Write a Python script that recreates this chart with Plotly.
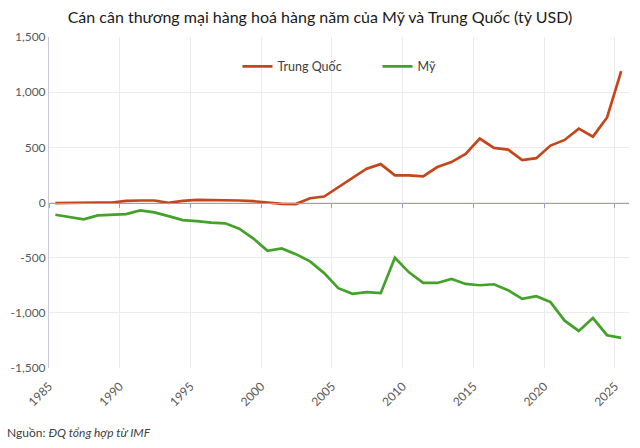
import plotly.graph_objects as go

years = list(range(1985, 2026))
china = [-6, -3, 3, 0, 0, 15, 18, 18, -3, 15, 24, 24, 21, 18, 12, -3, -12, -14, 39, 54,
         138, 225, 306, 348, 246, 246, 237, 321, 366, 441, 579, 495, 480, 384, 402, 516,
         567, 669, 597, 771, 1191]
usa = [-111, -135, -153, -117, -108, -105, -72, -90, -123, -159, -168, -183, -189, -237,
       -327, -438, -417, -468, -534, -640, -777, -828, -813, -822, -501, -633, -729, -729,
       -693, -738, -750, -741, -795, -873, -849, -903, -1071, -1164, -1047, -1203, -1227]
y_ticks = [-1500, -1000, -500, 0, 500, 1000, 1500]
y_ticktext = ["-1,500", "-1,000", "-500", "0", "500", "1,000", "1,500"]
x_ticks = [1985, 1990, 1995, 2000, 2005, 2010, 2015, 2020, 2025]

FONT = "Lato"
xpos = [y + 0.45 for y in years]

fig = go.Figure()
fig.add_trace(go.Scatter(x=xpos, y=china, mode="lines", name="Trung Quốc",
                         line=dict(color="#c4461b", width=2.7)))
fig.add_trace(go.Scatter(x=xpos, y=usa, mode="lines", name="Mỹ",
                         line=dict(color="#44a12a", width=2.7)))

fig.update_layout(
    width=640, height=448,
    margin=dict(l=49, r=11, t=37, b=80),
    paper_bgcolor="white", plot_bgcolor="white",
    font=dict(family=FONT, size=12, color="#595959"),
    title=dict(text="Cán cân thương mại hàng hoá hàng năm của Mỹ và Trung Quốc (tỷ USD)",
               x=0.5, xanchor="center", y=0.962, yanchor="middle",
               font=dict(family=FONT, size=16, color="#1a1a1a")),
    showlegend=True,
    legend=dict(orientation="h", x=0.325, y=0.91, xanchor="left", yanchor="middle",
                font=dict(family=FONT, size=12.5, color="#404040"),
                bgcolor="rgba(0,0,0,0)", entrywidth=95, entrywidthmode="pixels",
                itemwidth=30),
    xaxis=dict(range=[1985, 2026], tickvals=x_ticks, tickangle=-45,
               showgrid=True, gridcolor="#ebebeb", gridwidth=1,
               zeroline=False, showline=False, ticks="", ticklabelstandoff=8,
               tickfont=dict(family=FONT, size=12, color="#595959")),
    xaxis2=dict(range=[1985, 2026], tickvals=x_ticks, overlaying="x",
                anchor="free", position=0.5, side="bottom",
                showgrid=False, zeroline=False, showline=True,
                linecolor="#9f99cc", linewidth=1.2,
                ticks="outside", ticklen=4, tickcolor="#9f99cc",
                showticklabels=False),
    yaxis=dict(range=[-1500, 1500], tickvals=y_ticks, ticktext=y_ticktext,
               showgrid=True, gridcolor="#ebebeb", gridwidth=1,
               zeroline=False, showline=True, linecolor="#c9c6dd", linewidth=1,
               ticks="", tickfont=dict(family=FONT, size=12, color="#595959")),
)

# invisible helper trace to activate xaxis2 (zero line with ticks)
fig.add_trace(go.Scatter(x=[xpos[0]], y=[0], xaxis="x2", mode="markers",
                         marker=dict(opacity=0), showlegend=False, hoverinfo="skip"))

fig.add_annotation(text="Nguồn: <i>ĐQ tổng hợp từ IMF</i>", xref="paper", yref="paper",
                   x=-44/580, y=-(432-368)/331, xanchor="left", yanchor="middle",
                   showarrow=False, font=dict(family=FONT, size=12, color="#404040"))

fig.write_html("out.html")
